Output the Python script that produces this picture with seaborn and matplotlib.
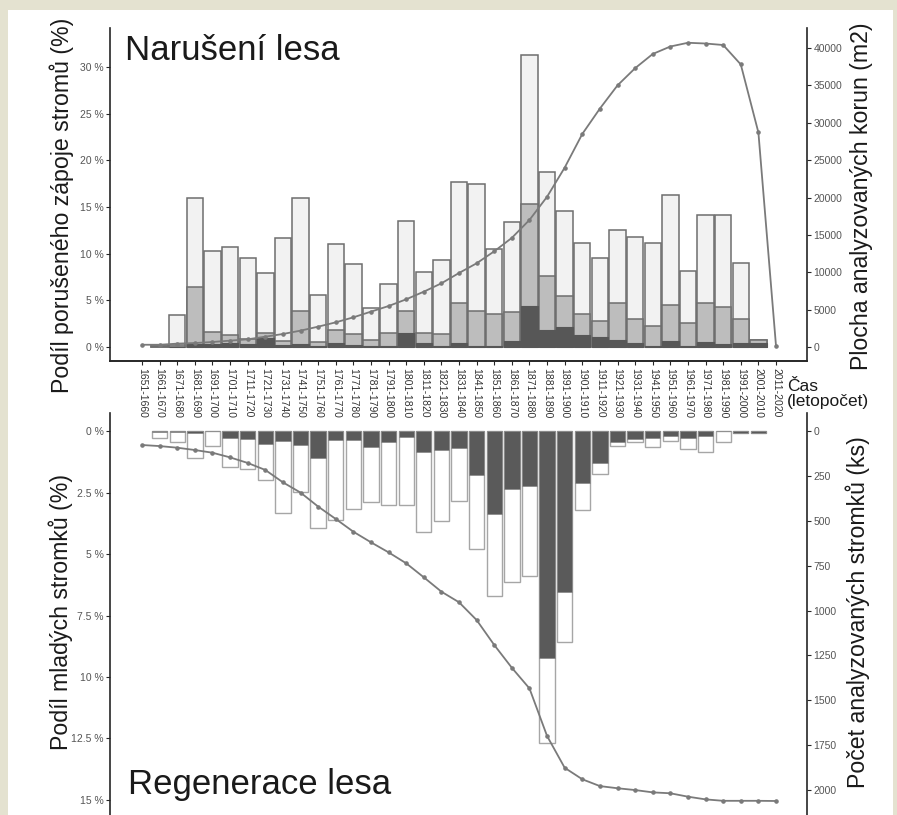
import numpy as np
import pandas as pd
import seaborn as sns
import matplotlib.pyplot as plt
from matplotlib.patches import Rectangle

# obdobi (desetileti)
periods = ['1651-1660', '1661-1670', '1671-1680', '1681-1690', '1691-1700',
           '1701-1710', '1711-1720', '1721-1730', '1731-1740', '1741-1750',
           '1751-1760', '1761-1770', '1771-1780', '1781-1790', '1791-1800',
           '1801-1810', '1811-1820', '1821-1830', '1831-1840', '1841-1850',
           '1851-1860', '1861-1870', '1871-1880', '1881-1890', '1891-1900',
           '1901-1910', '1911-1920', '1921-1930', '1931-1940', '1941-1950',
           '1951-1960', '1961-1970', '1971-1980', '1981-1990', '1991-2000',
           '2001-2010', '2011-2020']

# naruseni lesa (%), tri urovne intenzity (nan = bez sloupce)
nan = np.nan
dist_total = [nan, 0.2, 3.4, 16.0, 10.3, 10.7, 9.5, 7.9, 11.65, 16.0,
              5.6, 11.0, 8.9, 4.2, 6.7, 13.5, 8.0, 9.3, 17.7, 17.5,
              10.5, 13.4, 31.3, 18.8, 14.6, 11.1, 9.5, 12.55, 11.75, 11.1,
              16.3, 8.1, 14.15, 14.15, 9.05, 0.75, nan]
dist_mid = [nan, 0.1, 0.2, 6.4, 1.6, 1.25, 0.9, 1.5, 0.65, 3.85,
            0.5, 1.85, 1.35, 0.7, 1.55, 3.85, 1.45, 1.35, 4.7, 3.9,
            3.5, 3.8, 15.3, 7.65, 5.45, 3.5, 2.8, 4.75, 3.0, 2.3,
            4.5, 2.55, 4.75, 4.3, 3.0, 0.7, nan]
dist_dark = [nan, nan, 0.05, 0.3, 0.3, 0.4, 0.3, 1.0, 0.2, 0.3,
             0.15, 0.45, 0.2, 0.1, 0.15, 1.5, 0.45, 0.1, 0.45, 0.1,
             0.1, 0.6, 4.4, 1.85, 2.1, 1.25, 1.07, 0.75, 0.4, 0.1,
             0.65, 0.1, 0.5, 0.35, 0.45, 0.45, nan]
# plocha analyzovanych korun (m2)
crown_area = [300, 300, 450, 530, 670, 850, 1030, 1380, 1740, 2190,
              2720, 3300, 3970, 4730, 5480, 6380, 7400, 8520, 9900, 11200,
              12800, 14600, 17000, 20100, 24000, 28500, 31900, 35000, 37300, 39200,
              40200, 40700, 40600, 40400, 37800, 28700, 150]

# regenerace lesa (%)
regen_total = [nan, 0.27, 0.45, 1.1, 0.61, 1.48, 1.54, 2.0, 3.32, 2.49,
               3.96, 3.62, 3.18, 2.87, 3.0, 3.0, 4.12, 3.65, 2.85, 4.8,
               6.7, 6.15, 5.9, 12.7, 8.56, 3.21, 1.76, 0.61, 0.43, 0.64,
               0.39, 0.74, 0.84, 0.43, 0.08, 0.08, nan]
regen_dark = [nan, 0.03, 0.03, 0.1, 0.02, 0.27, 0.33, 0.53, 0.39, 0.56,
              1.1, 0.38, 0.38, 0.66, 0.46, 0.26, 0.85, 0.77, 0.7, 1.79,
              3.37, 2.36, 2.22, 9.24, 6.53, 2.13, 1.31, 0.43, 0.33, 0.27,
              0.2, 0.3, 0.2, 0.02, 0.08, 0.08, nan]
# pocet analyzovanych stromku (ks)
tree_count = [78, 84, 93, 106, 121, 147, 178, 217, 286, 343,
              421, 490, 561, 620, 676, 737, 815, 895, 954, 1053,
              1192, 1319, 1434, 1699, 1876, 1940, 1978, 1990, 2000, 2013,
              2018, 2037, 2052, 2060, 2060, 2060, 2061]

sns.set_theme(style='ticks')
plt.rcParams['font.family'] = ['Liberation Sans', 'DejaVu Sans']

W, H = 897, 815
fig = plt.figure(figsize=(W / 100, H / 100), dpi=100)
fig.patch.set_facecolor('#e4e2d0')
fig.patches.append(Rectangle((8 / W, 0), 885 / W, 805 / H, transform=fig.transFigure,
                             facecolor='white', edgecolor='none', zorder=-5))

ax = fig.add_axes([110 / W, 1 - 361 / H, 697 / W, 333 / H])
axb = fig.add_axes([110 / W, 0.0, 697 / W, 402 / H])
for a in (ax, axb):
    a.set_facecolor('none')

line_col = '#7a7a7a'
spine_col = '#262626'

# --- horni panel: naruseni ---
sns.barplot(x=periods, y=dist_total, order=periods, ax=ax, color='#f2f2f2',
            edgecolor='#6e6e6e', linewidth=1.1, width=0.93, saturation=1, errorbar=None)
sns.barplot(x=periods, y=dist_mid, order=periods, ax=ax, color='#bdbdbd',
            edgecolor='#6e6e6e', linewidth=1.1, width=0.93, saturation=1, errorbar=None)
sns.barplot(x=periods, y=dist_dark, order=periods, ax=ax, color='#575757',
            edgecolor='#575757', linewidth=0.8, width=0.93, saturation=1, errorbar=None)
ax2 = ax.twinx()
sns.pointplot(x=periods, y=crown_area, order=periods, ax=ax2, color=line_col,
              markers='o', markersize=2.3, linewidth=1.3, errorbar=None)

ax.set_ylim(-1.5, 34.18)
ax2.set_ylim(-1873, 42676)
ax.set_yticks([0, 5, 10, 15, 20, 25, 30])
ax.set_yticklabels([f'{v} %' for v in [0, 5, 10, 15, 20, 25, 30]])
ax2.set_yticks(np.arange(0, 40001, 5000))
ax2.set_yticklabels([str(v) for v in range(0, 40001, 5000)])

# --- dolni panel: regenerace ---
sns.barplot(x=periods, y=regen_total, order=periods, ax=axb, color='white',
            edgecolor='#a6a6a6', linewidth=1.0, width=0.87, saturation=1, errorbar=None)
sns.barplot(x=periods, y=regen_dark, order=periods, ax=axb, color='#5a5a5a',
            edgecolor='#8c8c8c', linewidth=0.6, width=0.87, saturation=1, errorbar=None)
axb2 = axb.twinx()
sns.pointplot(x=periods, y=tree_count, order=periods, ax=axb2, color=line_col,
              markers='o', markersize=2.3, linewidth=1.3, errorbar=None)

axb.set_ylim(15.61, -0.732)
axb2.set_ylim(2139, -100.3)
regen_ticks = [0, 2.5, 5, 7.5, 10, 12.5, 15]
axb.set_yticks(regen_ticks)
axb.set_yticklabels([f'{v:g} %' for v in regen_ticks])
axb2.set_yticks(np.arange(0, 2001, 250))
axb2.set_yticklabels([str(v) for v in range(0, 2001, 250)])

for a in (ax, ax2, axb, axb2):
    a.set_xlim(-1.82, 37.76)
    a.set_xlabel('')
    a.set_ylabel('')
    for s in a.spines.values():
        s.set_color(spine_col)
        s.set_linewidth(1.2)
    a.tick_params(axis='y', length=3, width=0.8, color=spine_col, labelsize=7.5,
                  labelcolor='#555555', pad=1.5)

ax.spines['top'].set_visible(False)
ax.spines['right'].set_visible(False)
ax2.spines['top'].set_visible(False)
ax2.spines['left'].set_visible(False)
ax.tick_params(axis='x', length=3, width=0.8, color=spine_col, labelsize=7.5,
               labelcolor='#333333', labelrotation=270, pad=2)

for s in ('top', 'bottom', 'right'):
    axb.spines[s].set_visible(False)
for s in ('top', 'bottom', 'left'):
    axb2.spines[s].set_visible(False)
axb.tick_params(axis='x', bottom=False, labelbottom=False)

# --- texty ---
txt = '#1a1a1a'
lab = 16.7
fig.text(125 / W, 1 - 60 / H, 'Narušení lesa', fontsize=25, color=txt, va='baseline')
fig.text(128 / W, 1 - 794 / H, 'Regenerace lesa', fontsize=25, color=txt, va='baseline')
fig.text(62 / W, 1 - 205 / H, 'Podíl porušeného zápoje stromů (%)', rotation=90,
         fontsize=lab, color=txt, ha='center', va='center')
fig.text(861 / W, 1 - 196 / H, 'Plocha analyzovaných korun (m2)', rotation=90,
         fontsize=lab, color=txt, ha='center', va='center')
fig.text(61 / W, 1 - 612 / H, 'Podíl mladých stromků (%)', rotation=90,
         fontsize=lab, color=txt, ha='center', va='center')
fig.text(858 / W, 1 - 612 / H, 'Počet analyzovaných stromků (ks)', rotation=90,
         fontsize=lab, color=txt, ha='center', va='center')
fig.text(787 / W, 1 - 379 / H, 'Čas\n(letopočet)', fontsize=12.5, color=txt,
         ha='left', va='top', linespacing=1.0)

fig.savefig('out.png', dpi=100, facecolor=fig.get_facecolor())
